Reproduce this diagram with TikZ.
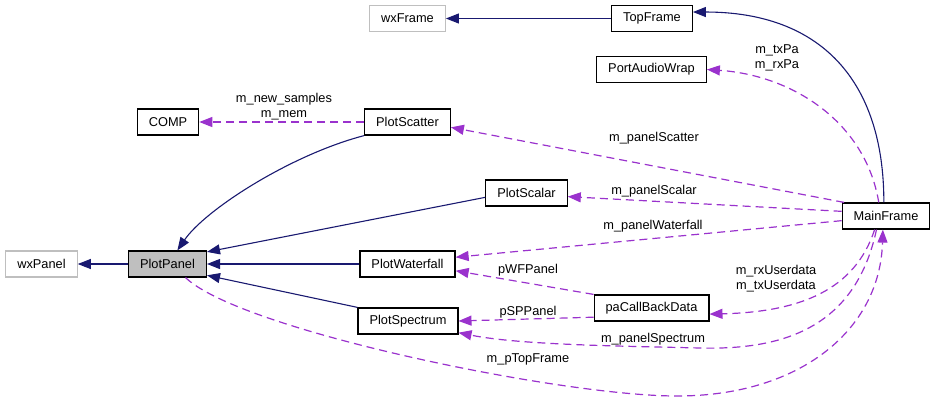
\documentclass[tikz,border=0pt]{standalone}
\usepackage{fontspec}
\setmainfont{Liberation Sans}
\usetikzlibrary{arrows.meta}
\definecolor{InhNavy}{RGB}{25,25,112}
\definecolor{UseOrchid}{RGB}{154,50,205}
\definecolor{ExtGray}{RGB}{191,191,191}
\newcommand\dxfont{\fontsize{12.8}{15}\selectfont}
\tikzset{
  cls/.style={draw=black,line width=1.2pt,fill=white,minimum height=26pt,
    inner xsep=11.5pt,inner ysep=0pt,font=\dxfont},
  ext/.style={cls,draw=ExtGray},
  cur/.style={cls,fill=ExtGray},
  inherit/.style={color=InhNavy,line width=1.1pt,-{Triangle[length=13pt,width=10pt]}},
  uses/.style={color=UseOrchid,line width=1.2pt,dash pattern=on 8pt off 5pt,
    -{Triangle[length=13pt,width=10pt]}},
  elabel/.style={font=\dxfont,align=center,inner sep=0pt},
}

\begin{document}
\begin{tikzpicture}[x=1pt,y=-1pt]
\useasboundingbox (0,0) rectangle (936,402);
% classes
\node[ext] (wxFrame) at (407.5,18.5) {wxFrame};
\node[cls] (TopFrame) at (652,18.5) {TopFrame};
\node[cls] (PortAudioWrap) at (651.5,69.5) {PortAudioWrap};
\node[cls] (COMP) at (168,122) {COMP};
\node[cls] (PlotScatter) at (407.5,122) {PlotScatter};
\node[cls] (PlotScalar) at (526.5,193) {PlotScalar};
\node[cls] (MainFrame) at (886,216) {MainFrame};
\node[ext] (wxPanel) at (41.5,264) {wxPanel};
\node[cur] (PlotPanel) at (167.5,264) {PlotPanel};
\node[cls] (PlotWaterfall) at (407.5,264) {PlotWaterfall};
\node[cls] (PlotSpectrum) at (408,321) {PlotSpectrum};
\node[cls] (paCallBackData) at (651.5,308) {paCallBackData};
% inheritance
\draw[inherit] (TopFrame.west) -- (wxFrame.east);
\draw[inherit] (MainFrame.99) .. controls (884,80) and (820,12) .. (TopFrame.9);
\draw[inherit] (PlotPanel.west) -- (wxPanel.east);
\draw[inherit] (PlotScatter.south west) .. controls (290,155) and (205,210) .. (PlotPanel.54);
\draw[inherit] (PlotScalar.186) -- (PlotPanel.17);
\draw[inherit] (PlotWaterfall.west) -- (PlotPanel.east);
\draw[inherit] (PlotSpectrum.north west) -- (PlotPanel.-16);
% usage
\draw[uses] (PlotScatter.west) -- (COMP.east);
\draw[uses] (MainFrame.118) .. controls (865,120) and (790,75) .. (PortAudioWrap.east);
\draw[uses] (MainFrame.162) -- (PlotScatter.-7);
\draw[uses] (MainFrame.174) -- (PlotScalar.-5);
\draw[uses] (MainFrame.186) -- (PlotWaterfall.8);
\draw[uses] (paCallBackData.north west) -- (PlotWaterfall.-8);
\draw[uses] (paCallBackData.189) -- (PlotSpectrum.east);
\draw[uses] (MainFrame.230) .. controls (855,290) and (800,312) .. (paCallBackData.-6);
\draw[uses] (MainFrame.235) .. controls (855,330) and (780,350) .. (700,348)
  .. controls (620,346) and (520,345) .. (PlotSpectrum.-13);
\draw[uses] (PlotPanel.-37) .. controls (240,330) and (560,396) .. (677,396)
  .. controls (800,396) and (880,330) .. (MainFrame.257);
% labels
\node[elabel] (lComp) at (284,107) {m\_new\_samples\\m\_mem};
\node[elabel] (lPa) at (777,58) {m\_txPa\\m\_rxPa};
\node[elabel] (lScatter) at (654,138) {m\_panelScatter};
\node[elabel] (lScalar) at (654,191) {m\_panelScalar};
\node[elabel] (lWaterfall) at (653,226) {m\_panelWaterfall};
\node[elabel] (lWF) at (528,270) {pWFPanel};
\node[elabel] (lSP) at (528,312) {pSPPanel};
\node[elabel] (lUser) at (776,279) {m\_rxUserdata\\m\_txUserdata};
\node[elabel] (lSpectrum) at (653,339) {m\_panelSpectrum};
\node[elabel] (lTop) at (528,359) {m\_pTopFrame};
\end{tikzpicture}
\end{document}
